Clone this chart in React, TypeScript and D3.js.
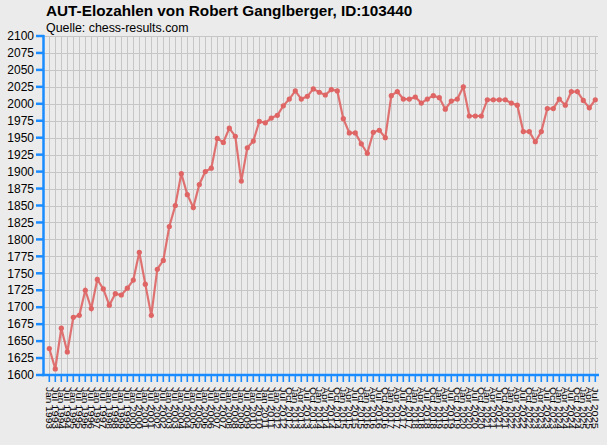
import React from "react";
import * as d3 from "d3";

const title = "AUT-Elozahlen von Robert Ganglberger, ID:103440";
const subtitle = "Quelle: chess-results.com";

// rating list dates (x axis labels)
const dates = [
  "Jan 1993", "Jul 1993", "Jan 1994", "Jul 1994", "Jan 1995", "Jul 1995",
  "Jan 1996", "Jul 1996", "Jan 1997", "Jul 1997", "Jan 1998", "Jul 1998",
  "Jan 1999", "Jul 1999", "Jan 2000", "Jul 2000", "Jan 2001", "Jul 2001",
  "Jan 2002", "Jul 2002", "Jan 2003", "Jul 2003", "Jan 2004", "Jul 2004",
  "Jan 2005", "Jul 2005", "Jan 2006", "Jul 2006", "Jan 2007", "Jul 2007",
  "Jan 2008", "Jul 2008", "Jan 2009", "Jul 2009", "Jan 2010", "Jul 2010",
  "Jan 2011", "Jul 2011", "Jan 2012", "Jul 2012", "Oct 2012",
  "Jan 2013", "Apr 2013", "Jul 2013", "Oct 2013",
  "Jan 2014", "Apr 2014", "Jul 2014", "Oct 2014",
  "Jan 2015", "Apr 2015", "Jul 2015", "Oct 2015",
  "Jan 2016", "Apr 2016", "Jul 2016", "Oct 2016",
  "Jan 2017", "Apr 2017", "Jul 2017", "Oct 2017",
  "Jan 2018", "Apr 2018", "Jul 2018", "Oct 2018",
  "Jan 2019", "Apr 2019", "Jul 2019", "Oct 2019",
  "Jan 2020", "Apr 2020", "Jul 2020", "Oct 2020",
  "Jan 2021", "Apr 2021", "Jul 2021", "Oct 2021",
  "Jan 2022", "Apr 2022", "Jul 2022", "Oct 2022",
  "Jan 2023", "Apr 2023", "Jul 2023", "Oct 2023",
  "Jan 2024", "Apr 2024", "Jul 2024", "Oct 2024",
  "Jan 2025", "Apr 2025", "Jul 2025",
];

// elo values, one per date
const elo = [
  1639, 1609, 1669, 1634, 1685, 1688, 1725, 1698, 1741, 1727,
  1703, 1720, 1718, 1728, 1740, 1781, 1734, 1688, 1756, 1769,
  1819, 1850, 1897, 1866, 1847, 1881, 1900, 1905, 1949, 1943,
  1964, 1952, 1886, 1935, 1945, 1974, 1972, 1979, 1983, 1997,
  2007, 2019, 2007, 2011, 2022, 2017, 2013, 2021, 2019, 1978,
  1957, 1957, 1941, 1927, 1958, 1961, 1950, 2012, 2018, 2007,
  2007, 2010, 2001, 2007, 2012, 2009, 1992, 2004, 2007, 2025,
  1982, 1982, 1982, 2006, 2006, 2006, 2006, 2001, 1998, 1959,
  1959, 1944, 1959, 1993, 1993, 2007, 1998, 2018, 2018, 2005,
  1994, 2006,
];

const yTicks = [
  1600, 1625, 1650, 1675, 1700, 1725, 1750, 1775, 1800, 1825, 1850,
  1875, 1900, 1925, 1950, 1975, 2000, 2025, 2050, 2075, 2100,
];

const W = 607;
const H = 445;
const BLUE = "#1a8cff";
const LINE = "#df6464";
const FONT = "Arial, 'Liberation Sans', sans-serif";

const App = () => {
  const x = d3
    .scaleLinear()
    .domain([-1, dates.length])
    .range([43.3, 43.3 + 6 * (dates.length + 1)]);
  const y = d3.scaleLinear().domain([1600, 2100]).range([375, 36]);

  const line = d3
    .line<number>()
    .x((d, i) => x(i))
    .y((d) => y(d));

  const plotLeft = 43.5;
  const plotRight = 598;

  return (
    <div style={{ position: "absolute", left: 0, top: 0 }}>
      <svg width={W} height={H} style={{ display: "block" }}>
        <rect x={0} y={0} width={W} height={H} fill="#ebebeb" />
        {/* grid */}
        <g stroke="#c6c6c6" strokeWidth={1}>
          {yTicks.map((t) => (
            <line key={t} x1={plotLeft} x2={plotRight} y1={Math.round(y(t)) + 0.5} y2={Math.round(y(t)) + 0.5} />
          ))}
          {dates.map((d, i) => (
            <line key={d} x1={Math.round(x(i)) + 0.5} x2={Math.round(x(i)) + 0.5} y1={y(2100)} y2={375} />
          ))}
        </g>
        {/* titles */}
        <text x={46} y={16} fontFamily={FONT} fontSize={15.3} fontWeight="bold" fill="#000">
          {title}
        </text>
        <text x={46} y={31.5} fontFamily={FONT} fontSize={12.4} fill="#000">
          {subtitle}
        </text>
        {/* y axis */}
        <g>
          <line x1={43.5} x2={43.5} y1={35} y2={376} stroke={BLUE} strokeWidth={2.5} />
          {yTicks.map((t) => (
            <g key={t}>
              <line x1={36} x2={44} y1={y(t)} y2={y(t)} stroke={BLUE} strokeWidth={2.5} />
              <text x={34} y={y(t)} dy="0.35em" textAnchor="end" fontFamily={FONT} fontSize={12} fill="#000">
                {t}
              </text>
            </g>
          ))}
        </g>
        {/* x axis */}
        <g>
          <line x1={42} x2={plotRight + 1} y1={375} y2={375} stroke={BLUE} strokeWidth={2.5} />
          {dates.map((d, i) => (
            <line key={d} x1={x(i)} x2={x(i)} y1={375} y2={382} stroke={BLUE} strokeWidth={1.6} />
          ))}
          {dates.map((d, i) => (
            <text
              key={d}
              transform={`translate(${x(i)},387) rotate(90)`}
              dy="0.35em"
              fontFamily={FONT}
              fontSize={8.5}
              textLength={42}
              lengthAdjust="spacingAndGlyphs"
              fill="#000"
            >
              {d}
            </text>
          ))}
        </g>
        {/* series */}
        <path d={line(elo) || ""} fill="none" stroke={LINE} strokeWidth={2.2} strokeOpacity={0.9} />
        {elo.map((v, i) => (
          <circle key={i} cx={x(i)} cy={y(v)} r={2.6} fill={LINE} />
        ))}
      </svg>
    </div>
  );
};

export default App;
